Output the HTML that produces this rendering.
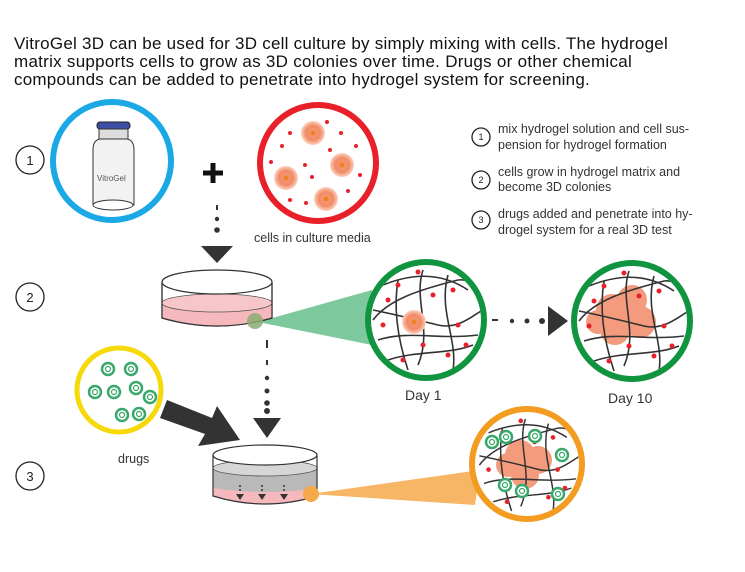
<!DOCTYPE html>
<html><head><meta charset="utf-8"><style>body{margin:0;background:#fff}svg{display:block}text{font-family:"Liberation Sans",sans-serif}</style></head><body>
<svg width="745" height="572" viewBox="0 0 745 572" xmlns="http://www.w3.org/2000/svg">
<defs>
<radialGradient id="cell"><stop offset="0" stop-color="#f6a07a"/><stop offset="0.6" stop-color="#f28a66"/><stop offset="1" stop-color="#fbd3c2"/></radialGradient>
<clipPath id="c1"><circle cx="426" cy="320" r="55"/></clipPath>
<clipPath id="c2"><circle cx="632" cy="321" r="55"/></clipPath>
<clipPath id="c3"><circle cx="527" cy="464" r="52"/></clipPath>
<g id="drug"><circle r="6" fill="#fff" stroke="#3aa86a" stroke-width="2.5"/><circle r="2.5" fill="none" stroke="#3aa86a" stroke-width="1.2"/></g>
<g id="mesh" fill="none" stroke="#333" stroke-width="1.6">
<path d="M-45,-35 C-20,-45 10,-50 40,-30"/><path d="M-55,0 C-40,-20 -10,-30 30,-40 C45,-42 50,-30 55,-25"/>
<path d="M-50,20 C-20,10 10,20 50,15"/><path d="M-40,40 C-10,30 20,35 45,25"/><path d="M-30,-40 C-35,-10 -30,20 -20,50"/>
<path d="M-5,-50 C-15,-20 5,10 -10,45"/><path d="M20,-45 C10,-10 30,20 25,50"/><path d="M-55,-10 C-30,-5 -10,0 10,5 C30,10 45,-5 55,-10"/>
<g fill="#e8202a" stroke="none"><circle cx="-40" cy="-20" r="2.5"/><circle cx="-10" cy="-48" r="2.5"/><circle cx="5" cy="-25" r="2.5"/><circle cx="25" cy="-30" r="2.5"/><circle cx="-45" cy="5" r="2.5"/><circle cx="30" cy="5" r="2.5"/><circle cx="-5" cy="25" r="2.5"/><circle cx="38" cy="25" r="2.5"/><circle cx="20" cy="35" r="2.5"/><circle cx="-25" cy="40" r="2.5"/><circle cx="-30" cy="-35" r="2.5"/></g>
</g>
</defs>
<g font-size="17" fill="#111" letter-spacing="0.25">
<text x="14" y="49" textLength="654">VitroGel 3D can be used for 3D cell culture by simply mixing with cells. The hydrogel</text>
<text x="14" y="67" textLength="618">matrix supports cells to grow as 3D colonies over time. Drugs or other chemical</text>
<text x="14" y="85" textLength="576">compounds can be added to penetrate into hydrogel system for screening.</text></g>
<g fill="none" stroke="#222" stroke-width="1.3"><circle cx="30" cy="160" r="14"/><circle cx="30" cy="297" r="14"/><circle cx="30" cy="476" r="14"/>
<circle cx="481" cy="137" r="9"/><circle cx="481" cy="180" r="9"/><circle cx="481" cy="220" r="9"/></g>
<g font-size="13" fill="#222" text-anchor="middle"><text x="30" y="165">1</text><text x="30" y="302">2</text><text x="30" y="481">3</text></g>
<g font-size="9" fill="#222" text-anchor="middle"><text x="481" y="140">1</text><text x="481" y="183">2</text><text x="481" y="223">3</text></g>
<g font-size="12.5" fill="#333"><text x="498" y="133">mix hydrogel solution and cell sus-</text><text x="498" y="149">pension for hydrogel formation</text>
<text x="498" y="176">cells grow in hydrogel matrix and</text><text x="498" y="191">become 3D colonies</text>
<text x="498" y="218">drugs added and penetrate into hy-</text><text x="498" y="234">drogel system for a real 3D test</text>
<text x="254" y="242">cells in culture media</text><text x="118" y="463">drugs</text>
<text x="405" y="400" font-size="14">Day 1</text><text x="608" y="403" font-size="14">Day 10</text></g>
<!-- blue -->
<circle cx="112" cy="161" r="59" fill="#fff" stroke="#1ba9e6" stroke-width="6"/>
<rect x="97" y="122" width="33" height="7" rx="3" fill="#3b4fa3" stroke="#222"/>
<rect x="99" y="129" width="29" height="10" fill="#ddd" stroke="#333"/>
<path d="M93,150 Q93,140 100,139 L127,139 Q134,140 134,150 L134,205 L93,205 Z" fill="#f2f2f2" stroke="#333"/>
<ellipse cx="113" cy="205" rx="20" ry="5" fill="#fff" stroke="#333"/>
<text x="97" y="181" font-size="8" fill="#555">VitroGel</text>
<path d="M213,163v20M203,173h20" stroke="#111" stroke-width="5"/>
<!-- red -->
<circle cx="318" cy="163" r="58" fill="#fff" stroke="#e8202a" stroke-width="6"/>
<g><circle cx="313" cy="133" r="12" fill="url(#cell)"/><circle cx="342" cy="165" r="12" fill="url(#cell)"/><circle cx="286" cy="178" r="12" fill="url(#cell)"/><circle cx="326" cy="199" r="12" fill="url(#cell)"/></g>
<g fill="#f08020"><circle cx="313" cy="133" r="2.5"/><circle cx="342" cy="165" r="2.5"/><circle cx="286" cy="178" r="2.5"/><circle cx="326" cy="199" r="2.5"/></g>
<g fill="#e8202a"><circle cx="327" cy="122" r="2"/><circle cx="290" cy="133" r="2"/><circle cx="341" cy="133" r="2"/><circle cx="282" cy="146" r="2"/><circle cx="330" cy="150" r="2"/><circle cx="356" cy="146" r="2"/><circle cx="271" cy="162" r="2"/><circle cx="305" cy="165" r="2"/><circle cx="312" cy="177" r="2"/><circle cx="360" cy="175" r="2"/><circle cx="348" cy="191" r="2"/><circle cx="290" cy="200" r="2"/><circle cx="306" cy="203" r="2"/></g>
<g fill="#333"><rect x="216" y="205" width="2" height="5"/><circle cx="217" cy="219" r="2.2"/><circle cx="217" cy="230" r="2.8"/><path d="M201,246h32l-16,17z"/></g>
<path d="M258,322 L372,290 L372,345 Z" fill="#5dba84" opacity="0.8"/>
<!-- dish 1 -->
<path d="M162,282 L162,318 Q217,334 272,318 L272,282" fill="#fff" stroke="#333" stroke-width="1.2"/>
<path d="M162,300 Q217,290 272,300 L272,318 Q217,334 162,318 Z" fill="#f5b8bd"/>
<ellipse cx="217" cy="303" rx="55" ry="9" fill="#f7c6cb" stroke="#555" stroke-width="0.8"/>
<path d="M162,282 L162,318 Q217,334 272,318 L272,282" fill="none" stroke="#333" stroke-width="1.2"/>
<ellipse cx="217" cy="282" rx="55" ry="12" fill="#fff" stroke="#333" stroke-width="1.2"/>
<circle cx="255" cy="321" r="8" fill="#8aab73" opacity="0.85"/>
<!-- day1 -->
<circle cx="426" cy="320" r="58" fill="#fff" stroke="#119440" stroke-width="6"/>
<g clip-path="url(#c1)"><use href="#mesh" transform="translate(428,320)"/></g>
<circle cx="414" cy="322" r="12" fill="url(#cell)"/><circle cx="414" cy="322" r="2.5" fill="#f08020"/>
<g fill="#333"><rect x="492" y="319" width="6" height="2"/><circle cx="512" cy="321" r="2.2"/><circle cx="527" cy="321" r="2.5"/><circle cx="542" cy="321" r="3"/><path d="M548,306v30l20,-15z"/></g>
<!-- day10 -->
<circle cx="632" cy="321" r="58" fill="#fff" stroke="#119440" stroke-width="6"/>
<g fill="#f28a66" opacity="0.85"><circle cx="612" cy="310" r="16"/><circle cx="632" cy="300" r="15"/><circle cx="640" cy="322" r="16"/><circle cx="615" cy="330" r="15"/><circle cx="598" cy="322" r="12"/></g>
<g clip-path="url(#c2)"><use href="#mesh" transform="translate(634,321)"/></g>
<!-- yellow -->
<circle cx="119" cy="390" r="42" fill="#fff" stroke="#f5d90a" stroke-width="5"/>
<use href="#drug" x="108" y="369"/><use href="#drug" x="131" y="369"/><use href="#drug" x="95" y="392"/><use href="#drug" x="114" y="392"/><use href="#drug" x="136" y="388"/><use href="#drug" x="150" y="397"/><use href="#drug" x="122" y="415"/><use href="#drug" x="139" y="414"/>
<!-- big arrow -->
<path d="M167,400 L212,418 L217,406 L240,440 L198,446 L205,434 L160,418 Z" fill="#333"/>
<g fill="#333"><rect x="266" y="340" width="2" height="8"/><rect x="266" y="360" width="2" height="5"/><circle cx="267" cy="378" r="2.2"/><circle cx="267" cy="391" r="2.5"/><circle cx="267" cy="403" r="2.8"/><circle cx="267" cy="411" r="3"/><path d="M253,418h28l-14,20z"/></g>
<path d="M310,494 L480,470 L475,505 Z" fill="#f5a94a" opacity="0.85"/>
<!-- dish 2 -->
<path d="M213,455 L213,496 Q265,512 317,496 L317,455 Z" fill="#fff"/>
<path d="M213,468 Q265,478 317,468 L317,496 Q265,512 213,496 Z" fill="#b9b9b9"/>
<ellipse cx="265" cy="468" rx="52" ry="8" fill="#d6d6d6" stroke="#555" stroke-width="0.8"/>
<path d="M213,488 Q265,496 317,488 L317,496 Q265,512 213,496 Z" fill="#f5b8bd"/>
<path d="M213,455 L213,496 Q265,512 317,496 L317,455" fill="none" stroke="#333" stroke-width="1.2"/>
<ellipse cx="265" cy="455" rx="52" ry="10" fill="#fff" stroke="#333" stroke-width="1.2"/>
<circle cx="311" cy="494" r="8" fill="#f5a94a"/>
<g fill="#333"><circle cx="240" cy="486" r="1"/><circle cx="240" cy="490" r="1"/><path d="M236,494h8l-4,6z"/><circle cx="262" cy="486" r="1"/><circle cx="262" cy="490" r="1"/><path d="M258,494h8l-4,6z"/><circle cx="284" cy="486" r="1"/><circle cx="284" cy="490" r="1"/><path d="M280,494h8l-4,6z"/></g>
<!-- orange -->
<circle cx="527" cy="464" r="55" fill="#fff" stroke="#f39c22" stroke-width="6"/>
<g fill="#f28a66" opacity="0.85"><circle cx="520" cy="455" r="15"/><circle cx="538" cy="460" r="14"/><circle cx="525" cy="475" r="14"/><circle cx="508" cy="465" r="12"/></g>
<g clip-path="url(#c3)"><use href="#mesh" transform="translate(530,465) scale(0.92)"/></g>
<use href="#drug" x="492" y="442"/><use href="#drug" x="506" y="437"/><use href="#drug" x="535" y="436"/><use href="#drug" x="562" y="455"/><use href="#drug" x="505" y="485"/><use href="#drug" x="522" y="491"/><use href="#drug" x="558" y="494"/>
</svg>
</body></html>
